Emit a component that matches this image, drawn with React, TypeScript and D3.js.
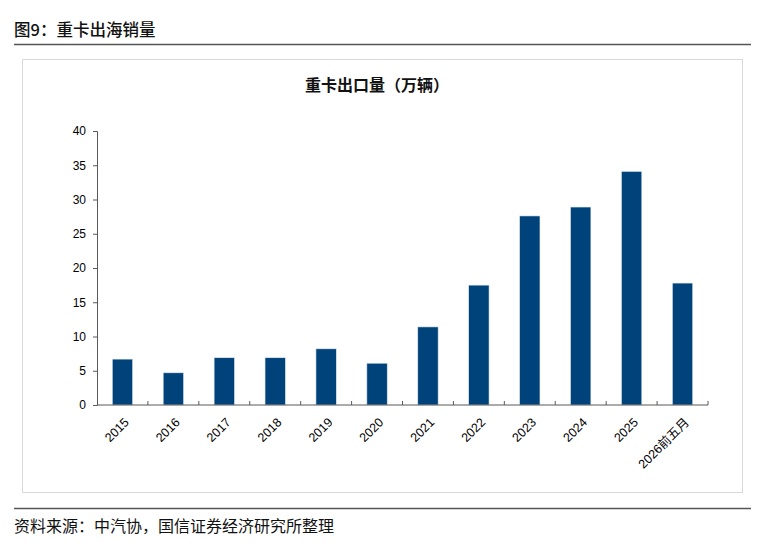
import React, { useEffect, useRef } from "react";
import * as d3 from "d3";

const categories = ["2015", "2016", "2017", "2018", "2019", "2020", "2021", "2022", "2023", "2024", "2025", "2026前五月"];
const exports = [6.7, 4.7, 6.9, 6.9, 8.2, 6.1, 11.4, 17.5, 27.6, 28.9, 34.1, 17.8];
const yTicks = [0, 5, 10, 15, 20, 25, 30, 35, 40];

const W = 775;
const H = 543;
const cjk = "'Noto Sans CJK SC', 'Noto Sans', sans-serif";
const latin = "'Liberation Sans', Arial, sans-serif";

export default function App() {
  const ref = useRef<SVGSVGElement>(null);

  useEffect(() => {
    const svg = d3.select(ref.current);
    svg.selectAll("*").remove();

    // page header
    svg.append("text")
      .attr("x", 14).attr("y", 36)
      .attr("font-family", cjk).attr("font-size", 16.5).attr("font-weight", 500)
      .attr("fill", "#111")
      .text("图9：重卡出海销量");
    svg.append("line")
      .attr("x1", 14).attr("x2", 751).attr("y1", 44.5).attr("y2", 44.5)
      .attr("stroke", "#555").attr("stroke-width", 1.5);

    // chart frame
    svg.append("rect")
      .attr("x", 22.5).attr("y", 59.5).attr("width", 720).attr("height", 433)
      .attr("fill", "#fff").attr("stroke", "#d9d9d9");

    svg.append("text")
      .attr("x", 377).attr("y", 91)
      .attr("text-anchor", "middle")
      .attr("font-family", cjk).attr("font-size", 16).attr("font-weight", 700)
      .attr("fill", "#111")
      .text("重卡出口量（万辆）");

    const x = d3.scaleBand().domain(categories).range([97, 708]).paddingInner(0.6).paddingOuter(0.3);
    const y = d3.scaleLinear().domain([0, 40]).range([405, 131]);

    // bars
    svg.append("g").selectAll("rect")
      .data(exports)
      .join("rect")
      .attr("x", (_, i) => x(categories[i])!)
      .attr("width", x.bandwidth())
      .attr("y", (d) => y(d))
      .attr("height", (d) => y(0) - y(d))
      .attr("fill", "#00427a")
      .attr("stroke", "#dfe8f0").attr("stroke-width", 0.6);

    // y axis
    const yAxis = svg.append("g")
      .attr("transform", "translate(97,0)")
      .call(d3.axisLeft(y).tickValues(yTicks).tickSize(4).tickPadding(7));
    yAxis.select(".domain").attr("stroke", "#595959");
    yAxis.selectAll(".tick line").attr("stroke", "#595959");
    yAxis.selectAll("text").attr("font-family", latin).attr("font-size", 12).attr("fill", "#000");

    // x axis: baseline and boundary ticks pointing up
    const step = x.step();
    const bounds = d3.range(categories.length + 1).map((i) => 97 + i * step);
    svg.append("line")
      .attr("x1", 97).attr("x2", 708).attr("y1", y(0)).attr("y2", y(0))
      .attr("stroke", "#595959");
    svg.append("g").selectAll("line")
      .data(bounds.slice(1))
      .join("line")
      .attr("x1", (d) => d).attr("x2", (d) => d)
      .attr("y1", y(0)).attr("y2", y(0) - 4)
      .attr("stroke", "#595959");

    svg.append("g").selectAll("text")
      .data(categories)
      .join("text")
      .attr("transform", (d) => `translate(${x(d)! + x.bandwidth() / 2 + 1},${y(0) + 12}) rotate(-45)`)
      .attr("text-anchor", "end")
      .attr("dy", "0.7em")
      .attr("font-family", (d) => (d.length > 4 ? `${latin}, ${cjk}` : latin))
      .attr("font-size", 12.5)
      .attr("fill", "#000")
      .text((d) => d);

    // footer
    svg.append("line")
      .attr("x1", 14).attr("x2", 751).attr("y1", 508.5).attr("y2", 508.5)
      .attr("stroke", "#555").attr("stroke-width", 1.5);
    svg.append("text")
      .attr("x", 14).attr("y", 532)
      .attr("font-family", cjk).attr("font-size", 16)
      .attr("fill", "#111")
      .text("资料来源：中汽协，国信证券经济研究所整理");
  }, []);

  return (
    <svg ref={ref} width={W} height={H} style={{ position: "absolute", left: 0, top: 0, background: "#fff" }} />
  );
}
